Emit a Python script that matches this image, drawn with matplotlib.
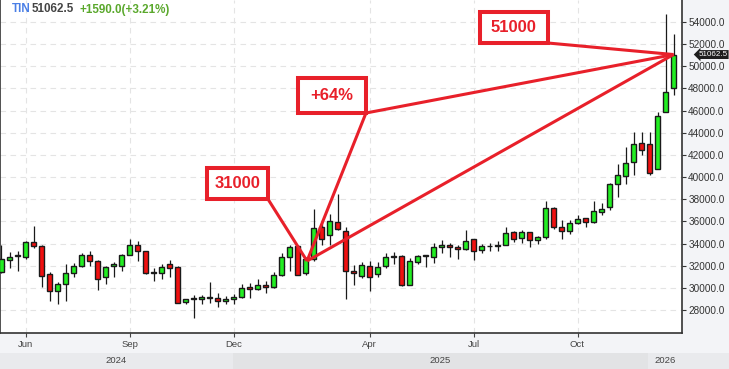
import matplotlib
matplotlib.use("Agg")
import matplotlib.pyplot as plt
from matplotlib import font_manager, transforms
from matplotlib.patches import Rectangle
from matplotlib.ticker import FormatStrFormatter

# ---------------- data ----------------
symbol = "TIN"
prev_close = 49472.5

opens = [31400, 32520, 32880, 32760, 34110, 33750, 31220, 29680, 30320, 31310,
         32000, 32940, 32400, 30950, 31950, 32000, 32940, 33840, 33300, 31430,
         31310, 32120, 31850, 28690, 29020, 29020, 29200, 29110, 28780, 28990,
         29140, 30050, 29860, 30230, 30050, 31130, 32760, 33780, 31310, 32580,
         35470, 34750, 35950, 35170, 31520, 31100, 31940, 31250, 31940, 32760,
         32850, 30290, 32370, 32880, 32760, 33660, 33840, 33660, 33480, 34390,
         33390, 33750, 33780, 33840, 35020, 34480, 35020, 34300, 34570, 37190,
         35470, 35110, 35830, 36280, 35950, 36860, 37280, 39390, 40110, 41380,
         43070, 42980, 40720, 45870, 48040]
highs = [33870, 33270, 33330, 34200, 35590, 33870, 31400, 30530, 32150, 32220,
         33120, 33360, 32520, 31980, 32310, 33060, 34420, 34240, 33300, 31760,
         32120, 32520, 32000, 29020, 29380, 29380, 30530, 29500, 29260, 29440,
         30350, 30470, 30770, 30650, 31460, 33120, 33870, 33870, 32760, 37100,
         36130, 36700, 38480, 35470, 32070, 32370, 32430, 32340, 33180, 33270,
         32970, 32670, 32970, 32970, 34080, 34330, 34080, 33900, 35230, 34390,
         33960, 34080, 34200, 35470, 35170, 35230, 35020, 34690, 37850, 37340,
         36130, 36130, 36580, 36340, 37850, 37640, 39450, 41200, 42700, 44030,
         44030, 44030, 45900, 54760, 52920]
lows = [31310, 31820, 31550, 32640, 33570, 30110, 28840, 28540, 28840, 31010,
        31910, 32000, 29800, 30350, 31010, 31550, 32940, 32460, 31220, 30650,
        30830, 30950, 28600, 28540, 27240, 28510, 28600, 28300, 28540, 28540,
        29050, 29050, 29800, 29500, 29950, 31070, 31550, 31130, 31130, 32460,
        33870, 33870, 35230, 28960, 30260, 30920, 29740, 31010, 31760, 32150,
        30170, 30290, 32150, 31910, 32280, 33180, 32820, 32640, 33420, 32520,
        33120, 33360, 33360, 33840, 34170, 34020, 33660, 33930, 34390, 35290,
        34450, 34870, 35740, 35470, 35890, 36560, 37040, 38240, 39390, 40170,
        41950, 40170, 40720, 45870, 47380]
closes = [32580, 32760, 33000, 34110, 33750, 31100, 29680, 30320, 31310, 32000,
          32940, 32400, 30770, 31850, 32130, 32940, 33840, 33300, 31310, 31310,
          31850, 31760, 28600, 28960, 29080, 29140, 29080, 28780, 28990, 29140,
          29950, 29860, 30230, 30110, 31130, 32760, 33660, 31190, 32580, 35380,
          34390, 36010, 35290, 31490, 31310, 32030, 30950, 31850, 32760, 32880,
          30290, 32400, 32850, 32940, 33660, 33840, 33660, 33480, 34210, 33300,
          33750, 33780, 33870, 34930, 34390, 35020, 34300, 34570, 37190, 35470,
          35110, 35830, 36220, 35950, 36920, 37100, 39360, 40170, 41290, 42980,
          42430, 40350, 45480, 47710, 51062.5]

month_tick_idx = [3, 16, 29, 46, 59, 72]
month_labels = ["Jun", "Sep", "Dec", "Apr", "Jul", "Oct"]
year_labels = ["2024", "2025", "2026"]
year_bounds = [-0.1875, 28.94, 80.8, 90.94]
y_ticks = list(range(28000, 54001, 2000))

# annotation anchors (index, price)
apex = (38.19, 32424)
box_31000 = (25.7, 38021, 33.3, 40847)
box_64 = (37.06, 45785, 45.56, 48945)
box_51000 = (59.8, 52104, 68.3, 54903)
ann_texts = ["31000", "+64%", "51000"]

# ---------------- fonts ----------------
names = {f.name for f in font_manager.fontManager.ttflist}
base = "Liberation Sans" if "Liberation Sans" in names else "DejaVu Sans"
narrow = "Liberation Sans Narrow" if "Liberation Sans Narrow" in names else None
plt.rcParams["font.family"] = [base, "DejaVu Sans"]

RED = "#e8202a"
GREEN = "#22ee22"
CRED = "#f01010"
DARK = "#1a1a1a"

W, H = 729, 369
fig = plt.figure(figsize=(W / 100, H / 100), dpi=100, facecolor="#f3f4f7")
ax = fig.add_axes([0, 36 / H, 682 / W, 333 / H])
ax.set_facecolor("white")
ax.set_xlim(-1.5 / 8, (682 - 1.5) / 8)
ax.set_ylim(25924, 55986)

# grid
ax.set_yticks(y_ticks)
ax.set_xticks(month_tick_idx)
ax.set_xticklabels(month_labels)
ax.grid(True, color="#e4e4e4", linestyle=(0, (5, 4)), linewidth=0.8, zorder=0)
ax.set_axisbelow(True)

# candles
for i, (o, h, l, c) in enumerate(zip(opens, highs, lows, closes)):
    col = GREEN if c >= o else CRED
    ax.vlines(i, l, h, color=DARK, linewidth=0.9, zorder=2)
    body = max(abs(c - o), 70)
    ax.bar(i, body, bottom=min(o, c), width=0.7, color=col,
           edgecolor=DARK, linewidth=1.0, zorder=3)

# spines / axes
ax.spines["top"].set_visible(False)
for s in ["left", "bottom", "right"]:
    ax.spines[s].set_color("#333333")
    ax.spines[s].set_linewidth(1.2)
ax.yaxis.tick_right()
ax.yaxis.set_major_formatter(FormatStrFormatter("%.1f"))
ax.tick_params(axis="y", which="both", length=3, width=0.8, colors="#333333",
               labelsize=7.2, pad=1.5, left=False)
ax.tick_params(axis="x", length=3, width=0.8, colors="#444444", labelsize=6.8, pad=2)

# annotations
end = (len(closes) - 1, closes[-1])
lines = [
    [(box_31000[2], box_31000[1]), apex],
    [apex, (box_64[2], box_64[1])],
    [(box_64[2], box_64[1]), end],
    [apex, end],
    [(box_51000[2], box_51000[1]), end],
]
for seg in lines:
    xs, ys = zip(*seg)
    ax.plot(xs, ys, color=RED, linewidth=2.2, zorder=6, solid_capstyle="butt", clip_on=False)

for b, t in zip([box_31000, box_64, box_51000], ann_texts):
    x0, y0, x1, y1 = b
    ax.add_patch(Rectangle((x0, y0), x1 - x0, y1 - y0, facecolor="white",
                           edgecolor=RED, linewidth=2.9, zorder=7))
    if narrow:
        ax.text((x0 + x1) / 2, (y0 + y1) / 2, t, family=narrow, fontsize=14, fontweight="bold",
                color=RED, ha="center", va="center", zorder=8)
    else:
        ax.text((x0 + x1) / 2, (y0 + y1) / 2, t, family=base, fontsize=12, fontweight="bold",
                color=RED, ha="center", va="center", zorder=8)

# last price tag
tr = transforms.blended_transform_factory(fig.transFigure, ax.transData)
tag_font = narrow if narrow else base
tag_size = 7.0 if narrow else 5.8
ax.text(698.5 / W, closes[-1], f"{closes[-1]:.1f}", transform=tr, color="white",
        family=tag_font, fontsize=tag_size, ha="left", va="center", zorder=10, clip_on=False,
        bbox=dict(boxstyle="larrow,pad=0.12", fc="#1e1e1e", ec="none"))

# header
chg = closes[-1] - prev_close
pct = chg / prev_close * 100
hy = 1 - 9.5 / H
fig.text(11.7 / W, hy, symbol, color="#4a7fe6", fontsize=8.4, fontweight="bold", va="center")
fig.text(31.7 / W, hy, f"{closes[-1]:.1f}", color="#444444", fontsize=8.4, fontweight="bold", va="center")
fig.text(80 / W, hy, f"+{chg:.1f}(+{pct:.2f}%)", color="#5aa82c", fontsize=8.4, fontweight="bold", va="center")

# year band
yax = fig.add_axes([0, 0, 1, 16.5 / H])
yax.set_xlim(-1.5 / 8, (729 - 1.5) / 8)
yax.set_ylim(0, 1)
yax.axis("off")
band_cols = ["#e9eaed", "#e2e3e5", "#e9eaed"]
for k in range(3):
    yax.axvspan(year_bounds[k], year_bounds[k + 1], color=band_cols[k], lw=0)
    xm = (year_bounds[k] + min(year_bounds[k + 1], (682 - 1.5) / 8)) / 2
    yax.text(xm, 0.5, year_labels[k], ha="center", va="center", fontsize=6.8, color="#444444")

fig.savefig("out.png", dpi=100, facecolor=fig.get_facecolor())
